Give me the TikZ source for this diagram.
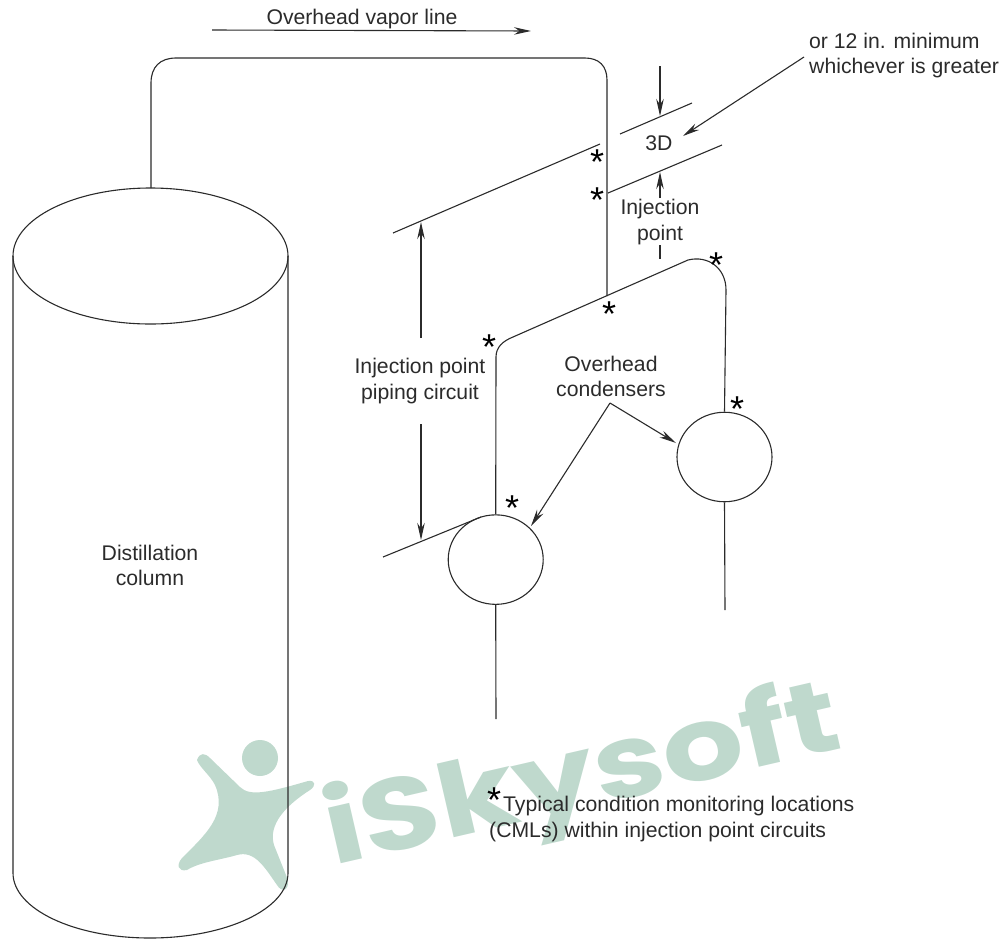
\documentclass[tikz,border=0pt]{standalone}
\usepackage{fontspec}
\usepackage{graphicx}
\setmainfont{Liberation Sans}
\newfontfamily\wmfont{Poppins}
\usetikzlibrary{arrows.meta,shapes.geometric}
\definecolor{ink}{HTML}{2B2B2B}
\definecolor{wm}{HTML}{BFD9CD}
\tikzset{
  pipe/.style={draw=ink,line width=1.1pt,line join=round},
  leader/.style={pipe,-{Stealth[length=17pt,width=7.5pt]}},
  label/.style={text=ink,font=\fontsize{21.2}{25.5}\selectfont,align=center,inner sep=0pt},
  labelleft/.style={label,align=left,anchor=west},
  starmark/.style={text=black,font=\fontsize{36}{36}\selectfont,anchor=base,inner sep=0pt,yshift=-17pt},
  condenser/.style={draw=ink,line width=1.1pt,ellipse,minimum width=95pt,minimum height=89.5pt,inner sep=0pt},
}
\begin{document}
\begin{tikzpicture}[x=1pt,y=-1pt]
\useasboundingbox (0,0) rectangle (1004,938);
\clip (0,0) rectangle (1004,938);
% watermark
\fill[wm] (260,758) ellipse [x radius=18,y radius=18];
\fill[wm] (197,760) .. controls (200,752) and (205,753) .. (210,758) -- (240,787) .. controls (250,797) and (270,792) .. (308,781) .. controls (316,780) and (316,786) .. (310,790) .. controls (285,806) and (268,825) .. (274,845) -- (288,880) .. controls (289,892) and (281,892) .. (277,885) .. controls (265,868) and (255,850) .. (237,855) .. controls (220,860) and (200,862) .. (187,870) .. controls (178,872) and (176,865) .. (182,858) .. controls (205,835) and (228,815) .. (215,785) .. controls (210,775) and (200,768) .. (197,760) -- cycle;
\node[text=wm,font=\wmfont\fontsize{102}{102}\selectfont\bfseries,rotate=13,anchor=base west,inner sep=0pt] (wmark) at (333,866) {\scalebox{1.25}[1]{iSkysoft}};
% column
\draw[pipe] (13,256) -- (13,873) .. controls (13,909) and (74,938) .. (150,938) .. controls (226,938) and (288,909) .. (288,873) -- (288,256);
\node[pipe,ellipse,minimum width=275pt,minimum height=136pt,inner sep=0pt] (top) at (150.5,256) {};
\coordinate (t1) at (151,188);
\coordinate (t2) at (607,296);
\draw[pipe] (t1) -- (151,83) .. controls (151,67) and (160,58) .. (176,58) -- (585,58) .. controls (599,58) and (607,66) .. (607,80) -- (t2);
% condensers
\node[condenser] (c1) at (724.5,457) {};
\node[condenser] (c2) at (495.7,559.6) {};
\coordinate (e1) at (725,610);
\coordinate (e2) at (496,719);
\draw[pipe] (c1.south) -- (e1);
\draw[pipe] (c2.south) -- (e2);
\draw[pipe] (c2.north) -- (496,357) .. controls (496,347) and (503,341) .. (513,337) -- (688,260) .. controls (708,255) and (726,268) .. (726,290) -- (c1.north);
% dimension lines
\coordinate (a1) at (393,233);\coordinate (a2) at (600,144);
\coordinate (b1) at (620,134);\coordinate (b2) at (692,103);
\coordinate (d1) at (608,193);\coordinate (d2) at (722,145);
\coordinate (f1) at (383,557);\coordinate (f2) at (481,517);
\draw[pipe] (a1) -- (a2);
\draw[pipe] (b1) -- (b2);
\draw[pipe] (d1) -- (d2);
\draw[pipe] (f1) -- (f2);
% labels
\node[label] (vap) at (362,19) {Overhead vapor line};
\node[labelleft] (min) at (809,55.5) {or 12 in. minimum\\whichever is greater};
\node[label] (threeD) at (659,143) {3D};
\node[label] (inj) at (660,222) {Injection\\point};
\node[label] (circ) at (420,381) {Injection point\\piping circuit};
\node[label] (ovh) at (611,376.5) {Overhead\\condensers};
\node[label] (dist) at (150,565.5) {Distillation\\column};
\node[labelleft,anchor=west] (note1) at (503,806) {Typical condition monitoring locations};
\node[labelleft,anchor=west] (note2) at (489,832) {(CMLs) within injection point circuits};
% arrows
\coordinate (v1) at (212,30);\coordinate (v2) at (531,31);
\draw[leader] (v1) -- (v2);
\coordinate (g1) at (660,66);\coordinate (g2) at (660,116);
\draw[leader] (g1) -- (g2);
\coordinate (h1) at (660,198);\coordinate (h2) at (660,172);
\draw[leader] (h1) -- (h2);
\coordinate (h3) at (660,245);\coordinate (h4) at (660,259);
\draw[pipe] (h3) -- (h4);
\coordinate (k1) at (804,57);\coordinate (k2) at (683,136);
\draw[leader] (k1) -- (k2);
\coordinate (m1) at (421,338);\coordinate (m2) at (421,222);
\draw[leader] (m1) -- (m2);
\coordinate (n1) at (421,424);\coordinate (n2) at (421,540);
\draw[leader] (n1) -- (n2);
\coordinate (o) at (610,403);\coordinate (o1) at (531,526);\coordinate (o2) at (676,443);
\draw[leader] (o) -- (o1);
\draw[leader] (o) -- (o2);
% asterisks
\node[starmark] (s1) at (597,157) {*};
\node[starmark] (s2) at (597,195) {*};
\node[starmark] (s3) at (716,260) {*};
\node[starmark] (s4) at (609,309) {*};
\node[starmark] (s5) at (489,342) {*};
\node[starmark] (s6) at (737,404) {*};
\node[starmark] (s7) at (512,503) {*};
\node[starmark] (s8) at (494,795) {*};
\end{tikzpicture}
\end{document}
